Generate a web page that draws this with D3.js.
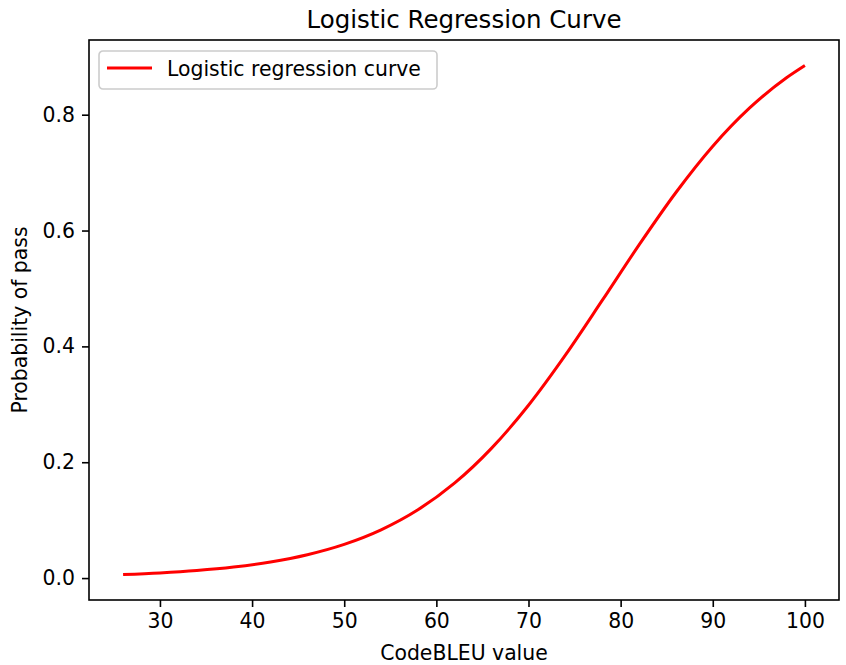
<!DOCTYPE html>
<html>
<head>
<meta charset="utf-8">
<script src="https://cdn.jsdelivr.net/npm/d3@7"></script>
<style>
  body { margin: 0; background: #fff; }
  svg { display: block; font-family: "DejaVu Sans", sans-serif; }
  .tick text { font-size: 20.4px; fill: #000; }
</style>
</head>
<body>
<div id="frame_div"></div>
<script>
// Chart size and plot box
const FRAME_WIDTH = 846;
const FRAME_HEIGHT = 665;
const MARGINS = {left: 89, right: 7, top: 40, bottom: 65};

// Data
const codebleu = [26, 30, 34, 38, 42, 46, 50, 54, 58, 62, 66, 70, 74, 78, 82, 86, 90, 94, 98, 100];
const passProb = [0.0061, 0.0089, 0.0130, 0.0190, 0.0277, 0.0403, 0.0581, 0.0832, 0.1178, 0.1642,
                  0.2243, 0.2984, 0.3849, 0.4793, 0.5752, 0.6657, 0.7456, 0.8117, 0.8638, 0.8850];
const xTicks = [30, 40, 50, 60, 70, 80, 90, 100];
const yTicks = [0.0, 0.2, 0.4, 0.6, 0.8];

const VIS_WIDTH = FRAME_WIDTH - MARGINS.left - MARGINS.right;
const VIS_HEIGHT = FRAME_HEIGHT - MARGINS.top - MARGINS.bottom;

const FRAME = d3.select("#frame_div")
                .append("svg")
                  .attr("width", FRAME_WIDTH)
                  .attr("height", FRAME_HEIGHT);

const points = codebleu.map((x, i) => ({x: x, y: passProb[i]}));

// matplotlib style 5% margins around the data
const xExt = d3.extent(codebleu);
const yExt = d3.extent(passProb);
const xPad = (xExt[1] - xExt[0]) * 0.05;
const yPad = (yExt[1] - yExt[0]) * 0.05;

const X_SCALE = d3.scaleLinear()
                  .domain([xExt[0] - xPad, xExt[1] + xPad])
                  .range([0, VIS_WIDTH]);
const Y_SCALE = d3.scaleLinear()
                  .domain([yExt[0] - yPad, yExt[1] + yPad])
                  .range([VIS_HEIGHT, 0]);

const G = FRAME.append("g")
               .attr("transform", `translate(${MARGINS.left},${MARGINS.top})`);

// curve
G.append("path")
  .datum(points)
  .attr("fill", "none")
  .attr("stroke", "#ff0000")
  .attr("stroke-width", 3)
  .attr("d", d3.line()
              .x(d => X_SCALE(d.x))
              .y(d => Y_SCALE(d.y))
              .curve(d3.curveMonotoneX));

// axes
const xAxis = G.append("g")
  .attr("transform", `translate(0,${VIS_HEIGHT})`)
  .call(d3.axisBottom(X_SCALE).tickValues(xTicks).tickSize(7).tickPadding(7).tickFormat(d3.format("d")));
const yAxis = G.append("g")
  .call(d3.axisLeft(Y_SCALE).tickValues(yTicks).tickSize(7).tickPadding(7).tickFormat(d3.format(".1f")));

[xAxis, yAxis].forEach(a => {
  a.select(".domain").remove();
  a.selectAll(".tick line").attr("stroke", "#000").attr("stroke-width", 1.6);
  a.attr("font-family", null).attr("font-size", null);
});

// spines
G.append("rect")
  .attr("x", 0).attr("y", 0)
  .attr("width", VIS_WIDTH).attr("height", VIS_HEIGHT)
  .attr("fill", "none")
  .attr("stroke", "#000")
  .attr("stroke-width", 1.6);

// title and labels
FRAME.append("text")
  .attr("x", MARGINS.left + VIS_WIDTH / 2)
  .attr("y", 28)
  .attr("text-anchor", "middle")
  .attr("font-size", 24.5)
  .text("Logistic Regression Curve");

FRAME.append("text")
  .attr("x", MARGINS.left + VIS_WIDTH / 2)
  .attr("y", 660)
  .attr("text-anchor", "middle")
  .attr("font-size", 20.4)
  .text("CodeBLEU value");

FRAME.append("text")
  .attr("transform", `translate(27,${MARGINS.top + VIS_HEIGHT / 2}) rotate(-90)`)
  .attr("text-anchor", "middle")
  .attr("font-size", 20.4)
  .text("Probability of pass");

// legend
const LEG = G.append("g").attr("transform", "translate(10,11)");
LEG.append("rect")
  .attr("width", 338).attr("height", 38)
  .attr("rx", 4).attr("ry", 4)
  .attr("fill", "#fff").attr("fill-opacity", 0.8)
  .attr("stroke", "#cccccc").attr("stroke-width", 1.6);
LEG.append("line")
  .attr("x1", 8).attr("x2", 53)
  .attr("y1", 17).attr("y2", 17)
  .attr("stroke", "#ff0000").attr("stroke-width", 3);
LEG.append("text")
  .attr("x", 68).attr("y", 24.5)
  .attr("font-size", 20.4)
  .text("Logistic regression curve");
</script>
</body>
</html>
